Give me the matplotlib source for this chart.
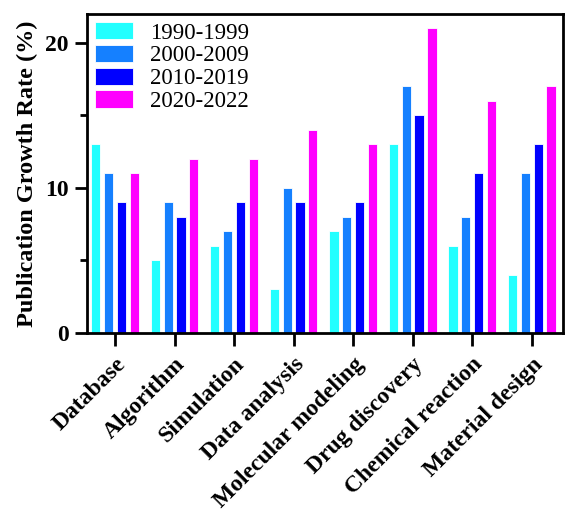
import matplotlib
matplotlib.use("Agg")
import matplotlib.pyplot as plt
import numpy as np
from matplotlib.ticker import MultipleLocator

plt.rcParams['font.family'] = ['Liberation Serif', 'DejaVu Serif']

categories = ["Database", "Algorithm", "Simulation", "Data analysis",
              "Molecular modeling", "Drug discovery", "Chemical reaction", "Material design"]
periods = ["1990-1999", "2000-2009", "2010-2019", "2020-2022"]
v1990 = [13, 5, 6, 3, 7, 13, 6, 4]
v2000 = [11, 9, 7, 10, 8, 17, 8, 11]
v2010 = [9, 8, 9, 9, 9, 15, 11, 13]
v2020 = [11, 12, 12, 14, 13, 21, 16, 17]
colors = ["#22FFFF", "#1580FF", "#0000FF", "#FF00FF"]

fig, ax = plt.subplots(figsize=(5.65, 5.13), dpi=100)
fig.subplots_adjust(left=0.154, right=0.996, top=0.973, bottom=0.351)

x = np.arange(len(categories))
step = 0.215
for i, (vals, col, lab) in enumerate(zip([v1990, v2000, v2010, v2020], colors, periods)):
    ax.bar(x + (i - 1.5) * step, vals, width=0.155, color=col, label=lab,
           edgecolor="white", linewidth=0.6)

ax.set_xlim(-0.47, 7.52)
ax.set_ylim(0, 22)
ax.set_xticks(x)
ax.set_xticklabels(categories, rotation=45, ha="right", rotation_mode="anchor",
                   fontsize=17, fontweight="bold")
ax.set_yticks([0, 10, 20])
ax.yaxis.set_minor_locator(MultipleLocator(5))
for t in ax.get_yticklabels():
    t.set_fontweight("bold")
    t.set_fontsize(17)
ax.tick_params(axis="both", which="major", length=9, width=2, direction="out")
ax.tick_params(axis="y", which="minor", length=5, width=2, direction="out")
ax.tick_params(axis="x", pad=6)
ax.tick_params(axis="y", pad=4)
for s in ax.spines.values():
    s.set_linewidth(2)

ax.set_ylabel("Publication Growth Rate (%)", fontsize=17.5, fontweight="bold", labelpad=5)

ax.legend(loc="upper left", frameon=False, fontsize=16.5, handlelength=1.65,
          handleheight=0.8, labelspacing=0.05, handletextpad=0.75,
          borderaxespad=0.2, borderpad=0.15)

fig.savefig("out.png", dpi=100)
